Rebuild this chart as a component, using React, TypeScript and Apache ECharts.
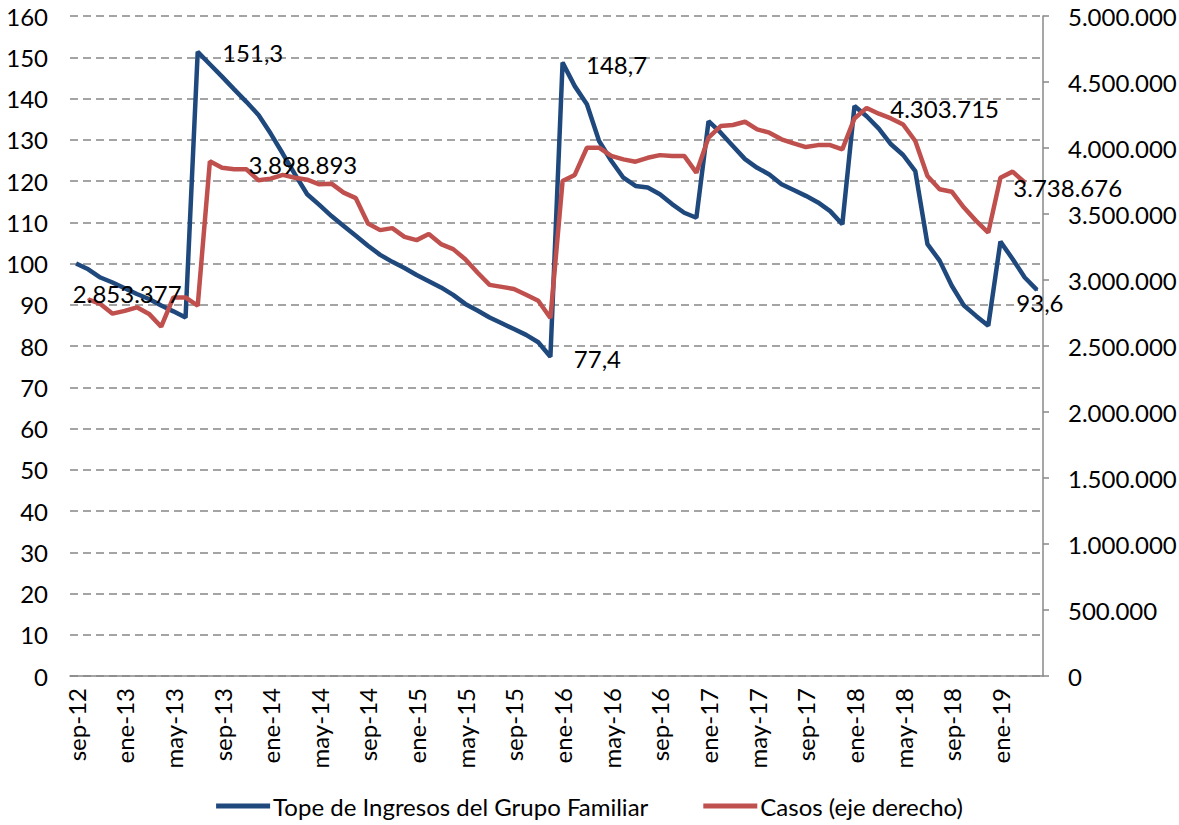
import React, { useEffect, useRef } from "react";
import * as echarts from "echarts";

const categories = [
  "sep-12","oct-12","nov-12","dic-12",
  "ene-13","feb-13","mar-13","abr-13","may-13","jun-13","jul-13","ago-13","sep-13","oct-13","nov-13","dic-13",
  "ene-14","feb-14","mar-14","abr-14","may-14","jun-14","jul-14","ago-14","sep-14","oct-14","nov-14","dic-14",
  "ene-15","feb-15","mar-15","abr-15","may-15","jun-15","jul-15","ago-15","sep-15","oct-15","nov-15","dic-15",
  "ene-16","feb-16","mar-16","abr-16","may-16","jun-16","jul-16","ago-16","sep-16","oct-16","nov-16","dic-16",
  "ene-17","feb-17","mar-17","abr-17","may-17","jun-17","jul-17","ago-17","sep-17","oct-17","nov-17","dic-17",
  "ene-18","feb-18","mar-18","abr-18","may-18","jun-18","jul-18","ago-18","sep-18","oct-18","nov-18","dic-18",
  "ene-19","feb-19","mar-19","abr-19",
];

const topeIngresos: (number | null)[] = [
  100.0, 98.6, 96.6, 95.4, 94.0, 92.6, 91.4, 89.8, 88.4, 86.9,
  151.3, 148.3, 145.3, 142.2, 139.2, 136.0, 131.5, 126.6, 121.6, 116.8,
  114.2, 111.5, 109.1, 106.7, 104.3, 102.1, 100.4, 98.9, 97.2, 95.7,
  94.2, 92.4, 90.2, 88.6, 86.9, 85.5, 84.1, 82.7, 80.9, 77.4,
  148.7, 143.0, 138.6, 129.7, 124.9, 120.8, 118.8, 118.4, 116.8, 114.4,
  112.3, 111.1, 134.5, 131.7, 128.5, 125.3, 123.2, 121.6, 119.2, 117.8,
  116.4, 114.8, 112.7, 109.5, 138.2, 135.7, 132.7, 128.9, 126.3, 122.4,
  104.7, 100.7, 94.6, 89.8, 87.3, 84.9, 105.3, 101.1, 96.6, 93.6,
];

const casos: (number | null)[] = [
  null, 2853377, 2818000, 2745000, 2766000, 2793000, 2743000, 2646000, 2868000, 2868000,
  2805000, 3898893, 3851000, 3839000, 3839000, 3755000, 3768000, 3796000, 3775000, 3760000,
  3725000, 3730000, 3662000, 3620000, 3428000, 3378000, 3393000, 3327000, 3302000, 3348000,
  3272000, 3234000, 3158000, 3057000, 2963000, 2948000, 2932000, 2888000, 2843000, 2712000,
  3750000, 3796000, 4002000, 4002000, 3940000, 3914000, 3896000, 3926000, 3946000, 3940000,
  3940000, 3813000, 4079000, 4166000, 4174000, 4199000, 4141000, 4116000, 4066000, 4035000,
  4007000, 4022000, 4022000, 3990000, 4224000, 4303715, 4260000, 4224000, 4178000, 4053000,
  3788000, 3687000, 3669000, 3549000, 3448000, 3359000, 3775000, 3821000, 3738676, null,
];

const leftTicks = { min: 0, max: 160, interval: 10 };
const rightTicks = { min: 0, max: 5000000, interval: 500000 };

const seriesNames = ["Tope de Ingresos del Grupo Familiar", "Casos (eje derecho)"];

// indices of labelled points and their label offsets (style only)
const blueLabels: Record<number, [number, number]> = {
  10: [55, 1],
  39: [47, 2],
  40: [54, 2],
  79: [3, 13],
};
const redLabels: Record<number, [number, number]> = {
  1: [39, -6],
  11: [93, 3],
  65: [78, 1],
  78: [43, 5],
};

const BLUE = "#1F497D";
const RED = "#C0504D";
const FONT = "Lato, 'Liberation Sans', sans-serif";
const FS = 24;

function fmtThousands(v: number): string {
  const s = Math.round(v).toString();
  return s.replace(/\B(?=(\d{3})+(?!\d))/g, ".");
}
function fmtDecimal(v: number): string {
  return v.toFixed(1).replace(".", ",");
}

function buildData(
  values: (number | null)[],
  labels: Record<number, [number, number]>,
  color: string,
  fmt: (v: number) => string
) {
  return values.map((v, i) => {
    if (labels[i] && v != null) {
      return {
        value: v,
        symbol: "circle",
        symbolSize: 2,
        itemStyle: { color },
        label: {
          show: true,
          position: "inside",
          offset: labels[i],
          formatter: () => fmt(v),
          color: "#000",
          fontSize: FS,
          fontFamily: FONT,
        },
      };
    }
    return v == null ? "-" : v;
  });
}

export default function App() {
  const ref = useRef<HTMLDivElement>(null);

  useEffect(() => {
    if (!ref.current) return;
    const chart = echarts.init(ref.current, undefined, { renderer: "svg" });
    const option: any = {
      animation: false,
      backgroundColor: "#fff",
      textStyle: { fontFamily: FONT },
      grid: {
        left: 70,
        right: 136,
        top: 16,
        bottom: 149,
        containLabel: false,
        outerBoundsMode: "none",
      },
      legend: {
        bottom: 2,
        left: "center",
        icon: "rect",
        itemWidth: 54,
        itemHeight: 5,
        itemGap: 55,
        textStyle: { fontSize: FS, color: "#000", fontFamily: FONT, padding: [0, 0, 0, -2] },
        data: seriesNames,
      },
      xAxis: {
        type: "category",
        data: categories,
        boundaryGap: true,
        axisLine: { show: true, lineStyle: { color: "#888", width: 1.5 } },
        axisTick: { show: false },
        axisLabel: {
          interval: 3,
          rotate: 90,
          margin: 12,
          fontSize: FS,
          color: "#000",
          fontFamily: FONT,
        },
      },
      yAxis: [
        {
          type: "value",
          min: leftTicks.min,
          max: leftTicks.max,
          interval: leftTicks.interval,
          axisLine: { show: false },
          axisTick: { show: false },
          axisLabel: { fontSize: FS, color: "#000", margin: 22, fontFamily: FONT },
          splitLine: {
            show: true,
            lineStyle: { color: "#868686", width: 1.5, type: [8, 5] },
          },
        },
        {
          type: "value",
          min: rightTicks.min,
          max: rightTicks.max,
          interval: rightTicks.interval,
          position: "right",
          axisLine: { show: true, lineStyle: { color: "#888", width: 1.5 } },
          axisTick: { show: true, inside: false, length: 6, lineStyle: { color: "#888", width: 1.5 } },
          axisLabel: {
            fontSize: FS,
            color: "#000",
            margin: 25,
            fontFamily: FONT,
            formatter: (v: number) => (v === 0 ? "0" : fmtThousands(v)),
          },
          splitLine: { show: false },
        },
      ],
      series: [
        {
          name: seriesNames[0],
          type: "line",
          yAxisIndex: 0,
          data: buildData(topeIngresos, blueLabels, BLUE, fmtDecimal),
          symbol: "none",
          showAllSymbol: true,
          lineStyle: { color: BLUE, width: 4.5 },
          itemStyle: { color: BLUE },
          z: 3,
        },
        {
          name: seriesNames[1],
          type: "line",
          yAxisIndex: 1,
          data: buildData(casos, redLabels, RED, fmtThousands),
          symbol: "none",
          showAllSymbol: true,
          connectNulls: false,
          lineStyle: { color: RED, width: 4.5 },
          itemStyle: { color: RED },
          z: 4,
        },
      ],
    };
    chart.setOption(option);
    return () => chart.dispose();
  }, []);

  return (
    <div
      ref={ref}
      style={{ position: "absolute", left: 0, top: 0, width: 1179, height: 825 }}
    />
  );
}
